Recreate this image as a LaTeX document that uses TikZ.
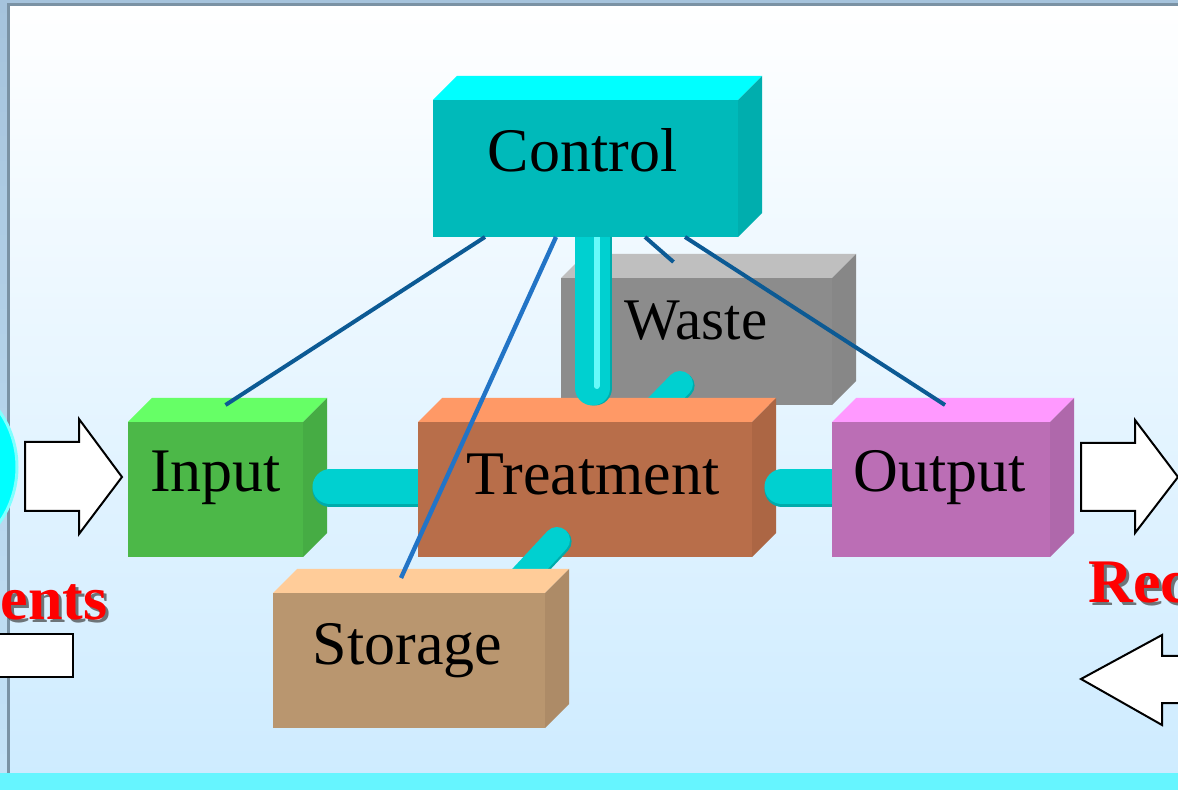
\documentclass[tikz,border=0pt]{standalone}
\usepackage{fontspec}
\setmainfont{Liberation Serif}
\usepackage{tikz}
\usetikzlibrary{positioning,calc}

\definecolor{bgblue}{HTML}{CDEBFF}
\definecolor{framegray}{HTML}{7A92A4}
\definecolor{stripblue}{HTML}{A5C3DC}
\definecolor{bandcyan}{HTML}{66F5FF}
\definecolor{circcyan}{HTML}{00FFFF}
\definecolor{circrim}{HTML}{80FFFF}
\definecolor{wastefront}{HTML}{8C8C8C}
\definecolor{wastetop}{HTML}{BFBFBF}
\definecolor{wasteside}{HTML}{878787}
\definecolor{inpfront}{HTML}{4CB848}
\definecolor{inptop}{HTML}{66FF66}
\definecolor{inpside}{HTML}{46AC44}
\definecolor{trfront}{HTML}{B86E4A}
\definecolor{trtop}{HTML}{FF9966}
\definecolor{trside}{HTML}{AC6644}
\definecolor{outfront}{HTML}{BB6EB5}
\definecolor{outtop}{HTML}{FF99FF}
\definecolor{outside}{HTML}{AF68AB}
\definecolor{stfront}{HTML}{B9966F}
\definecolor{sttop}{HTML}{FFCC99}
\definecolor{stside}{HTML}{AD8B67}
\definecolor{ctfront}{HTML}{00BABA}
\definecolor{cttop}{HTML}{00FFFF}
\definecolor{ctside}{HTML}{00AEAE}
\definecolor{pipedark}{HTML}{00ABAB}
\definecolor{pipelite}{HTML}{00D0D0}
\definecolor{pipeshine}{HTML}{66FAFA}
\definecolor{wireblue}{HTML}{0C5A94}
\definecolor{wirelite}{HTML}{2274C6}

\pgfdeclarelayer{back}
\pgfdeclarelayer{low}
\pgfdeclarelayer{pipes}
\pgfdeclarelayer{mid}
\pgfdeclarelayer{top}
\pgfsetlayers{back,low,pipes,mid,main,top}

% top and right face of a box whose front face is node #1
\newcommand\boxfaces[3]{%
  \fill[#2] (#1.north west) -- ++(24,-24) -- ([shift={(24,-24)}]#1.north east) -- (#1.north east) -- cycle;
  \fill[#3] (#1.north east) -- ++(24,-24) -- ([shift={(24,-24)}]#1.south east) -- (#1.south east) -- cycle;}

\begin{document}
\begin{tikzpicture}[x=0.5pt,y=-0.5pt,
  face/.style={inner sep=0,outer sep=0,draw=none},
  lbl/.style={font=\fontsize{31}{36}\selectfont,anchor=base,inner sep=0},
  hpipe/.style={draw=pipelite,line width=17.5pt,line cap=round,
    preaction={draw=pipedark,line width=17.5pt,line cap=round,transform canvas={yshift=-1.2pt}}},
  vpipe/.style={draw=pipelite,line width=17.5pt,line cap=round,
    preaction={draw=pipedark,line width=17.5pt,line cap=round,transform canvas={xshift=1.2pt}}},
  stub/.style={draw=pipelite,line width=13pt,line cap=round,
    preaction={draw=pipedark,line width=13pt,line cap=round,transform canvas={shift={(0.8pt,-0.8pt)}}}},
  wire/.style={draw=wireblue,line width=2pt},
  bigarrow/.style={draw=black,line width=1pt,fill=white,line join=miter},
  redword/.style={font=\bfseries\fontsize{31}{36}\selectfont,text=red,inner sep=0},
  redshade/.style={redword,text=black!75,opacity=.7}]

\begin{pgfonlayer}{back}
\useasboundingbox (0,0) rectangle (1178,790);
\shade[top color=white,bottom color=bgblue] (0,0) rectangle (1178,790);
% slide frame
\shade[top color=stripblue,bottom color=bgblue!80!stripblue] (0,0) rectangle (7,790);
\fill[stripblue] (0,0) rectangle (1178,3);
\fill[framegray] (7,3) rectangle (1178,6);
\fill[framegray] (7,3) rectangle (10,790);
\fill[bandcyan] (0,773) rectangle (1178,790);
\fill[circcyan,draw=circrim,line width=1.5pt] (-80,467) circle[radius=97];
% block arrows
\draw[bigarrow] (25,442) -- (79,442) -- (79,419) -- (122,477) -- (79,534) -- (79,511) -- (25,511) -- cycle;
\draw[bigarrow] (1081,443) -- (1135,443) -- (1135,420) -- (1178,477) -- (1135,533) -- (1135,511) -- (1081,511) -- cycle;
\draw[bigarrow] (1081,679) -- (1162,635) -- (1162,656) -- (1195,656) -- (1195,703) -- (1162,703) -- (1162,725) -- cycle;
\draw[bigarrow] (-10,634) rectangle (73,677);
\node[redshade,anchor=base east] at (111,623) {ents};
\node[redword,anchor=base east] (leftword) at (108,620) {ents};
\node[redshade,anchor=base west] at (1091,606) {Rec};
\node[redword,anchor=base west] (rightword) at (1088,603) {Rec};
\end{pgfonlayer}

\begin{pgfonlayer}{low}
\node[face,fill=wastefront,minimum width=135.5pt,minimum height=63.5pt] (waste) at (696.5,341.5) {};
\boxfaces{waste}{wastetop}{wasteside}
\node[lbl,font=\fontsize{29.5}{34}\selectfont] (wastelbl) at (696,340) {Waste};
\node[face,fill=inpfront,minimum width=87.5pt,minimum height=67.5pt] (input) at (215.5,489.5) {};
\boxfaces{input}{inptop}{inpside}
\node[lbl] (inputlbl) at (215.5,492) {Input};
\end{pgfonlayer}

\begin{pgfonlayer}{mid}
\node[face,fill=trfront,minimum width=167pt,minimum height=67.5pt] (treatment) at (585,489.5) {};
\boxfaces{treatment}{trtop}{trside}
\node[lbl] (treatmentlbl) at (593,495) {Treatment};
\end{pgfonlayer}

\begin{pgfonlayer}{top}
\node[face,fill=stfront,minimum width=136pt,minimum height=67.5pt] (storage) at (409,660.5) {};
\boxfaces{storage}{sttop}{stside}
\node[lbl] (storagelbl) at (407.5,665) {Storage};
\node[face,fill=outfront,minimum width=109pt,minimum height=67.5pt] (output) at (941,489.5) {};
\boxfaces{output}{outtop}{outside}
\node[lbl] (outputlbl) at (940,492) {Output};
\node[face,fill=ctfront,minimum width=152.5pt,minimum height=68.5pt] (control) at (585.5,168.5) {};
\boxfaces{control}{cttop}{ctside}
\node[lbl] (controllbl) at (582.5,172) {Control};
% signal lines
\draw[wire] ([shift={(52,0)}]control.south west) -- ([shift={(10,-17)}]input.north);
\draw[draw=wirelite,line width=2.2pt] ([shift={(123,0)}]control.south west) -- ([shift={(-8,-15)}]storage.north);
\draw[wire] ([shift={(212,0)}]control.south west) -- ([shift={(-23,-16)}]waste.north);
\draw[wire] ([shift={(252,0)}]control.south west) -- ([shift={(4,-17)}]output.north);
\end{pgfonlayer}

% pipes behind the treatment box
\begin{pgfonlayer}{pipes}
\draw[hpipe] ([shift={(27,-2.5)}]input.east) -- ([shift={(20,-2.5)}]treatment.west);
\draw[stub] ([shift={(-16.5,-21)}]waste.south) -- ([shift={(55,3)}]treatment.north);
\end{pgfonlayer}

% pipes in front of it
\draw[vpipe] ([shift={(7,-7)}]control.south) -- ([shift={(7.5,-34)}]treatment.north);
\draw[pipeshine,line width=3pt,line cap=round] ([shift={(11,-7)}]control.south) -- ([shift={(11.5,-36)}]treatment.north);
\draw[stub] ([shift={(-28,-17)}]treatment.south) -- ([shift={(106,-8)}]storage.north);
\draw[hpipe] ([shift={(30,-2.5)}]treatment.east) -- ([shift={(20,-2.5)}]output.west);
\end{tikzpicture}
\end{document}
